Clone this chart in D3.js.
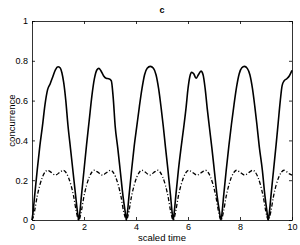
<!DOCTYPE html>
<html>
<head>
<meta charset="utf-8">
<script src="https://cdn.jsdelivr.net/npm/d3@7"></script>
<style>
  html, body { margin: 0; padding: 0; background: #fff; }
  svg text { font-family: "Liberation Sans", Arial, sans-serif; fill: #000; }
</style>
</head>
<body>
<div id="chart"></div>
<script>
// scaled time samples and concurrence values
const solidT = [
  0, 0.05, 0.1, 0.2, 0.3, 0.4, 0.5, 0.6, 0.7, 0.8, 0.9, 1.0, 1.08, 1.15, 1.22, 1.3, 1.38, 1.48, 1.58, 1.68, 1.74, 1.8,
  1.85, 1.9, 2.0, 2.1, 2.2, 2.3, 2.4, 2.5, 2.57, 2.65, 2.75, 2.85, 2.95, 3.05, 3.12, 3.2, 3.3, 3.4, 3.5, 3.58, 3.63,
  3.68, 3.73, 3.83, 3.93, 4.03, 4.13, 4.23, 4.33, 4.43, 4.55, 4.67, 4.77, 4.87, 4.97, 5.05, 5.13, 5.23, 5.33, 5.38, 5.43,
  5.48, 5.53, 5.63, 5.73, 5.83, 5.93, 6.0, 6.07, 6.14, 6.22, 6.31, 6.4, 6.5, 6.58, 6.66, 6.74, 6.82, 6.92, 7.02, 7.12, 7.2, 7.27,
  7.32, 7.37, 7.47, 7.57, 7.67, 7.77, 7.87, 7.97, 8.07, 8.17, 8.28, 8.38, 8.48, 8.57, 8.65, 8.74, 8.86, 8.96, 9.03, 9.09,
  9.14, 9.19, 9.29, 9.39, 9.47, 9.55, 9.62, 9.7, 9.8, 9.9, 10
];
const solidC = [
  0, 0.05, 0.12, 0.25, 0.37, 0.47, 0.58, 0.655, 0.685, 0.72, 0.755, 0.77, 0.765, 0.74, 0.69, 0.6, 0.48, 0.36, 0.24, 0.12, 0.05, 0,
  0.05, 0.12, 0.25, 0.38, 0.5, 0.62, 0.71, 0.755, 0.762, 0.75, 0.725, 0.712, 0.71, 0.7, 0.62, 0.47, 0.36, 0.24, 0.12, 0.045, 0,
  0.05, 0.12, 0.25, 0.37, 0.47, 0.57, 0.66, 0.73, 0.763, 0.772, 0.763, 0.73, 0.66, 0.56, 0.47, 0.37, 0.25, 0.12, 0.05, 0,
  0.05, 0.12, 0.25, 0.36, 0.46, 0.57, 0.66, 0.72, 0.742, 0.735, 0.712, 0.73, 0.748, 0.73, 0.66, 0.56, 0.47, 0.36, 0.24, 0.12, 0.05, 0,
  0.05, 0.12, 0.25, 0.37, 0.48, 0.58, 0.67, 0.735, 0.765, 0.772, 0.762, 0.73, 0.66, 0.57, 0.48, 0.37, 0.25, 0.12, 0.05, 0,
  0.05, 0.12, 0.25, 0.38, 0.49, 0.6, 0.675, 0.7, 0.71, 0.725, 0.752
];

const dashT = [
  0, 0.05, 0.1, 0.2, 0.3, 0.4, 0.5, 0.6, 0.7, 0.9, 1.1, 1.2, 1.3, 1.4, 1.5, 1.6, 1.7, 1.75, 1.8,
  1.85, 1.9, 2.0, 2.1, 2.2, 2.3, 2.4, 2.5, 2.71, 2.92, 3.02, 3.12, 3.22, 3.32, 3.42, 3.52, 3.58, 3.63,
  3.68, 3.73, 3.83, 3.93, 4.03, 4.13, 4.23, 4.33, 4.53, 4.73, 4.83, 4.93, 5.03, 5.13, 5.23, 5.33, 5.38, 5.43,
  5.48, 5.53, 5.63, 5.73, 5.83, 5.93, 6.03, 6.13, 6.35, 6.57, 6.67, 6.77, 6.87, 6.97, 7.07, 7.17, 7.22, 7.27,
  7.32, 7.37, 7.47, 7.57, 7.67, 7.77, 7.87, 7.97, 8.18, 8.39, 8.49, 8.59, 8.69, 8.79, 8.89, 8.99, 9.04, 9.09,
  9.14, 9.19, 9.29, 9.39, 9.49, 9.59, 9.69, 9.79, 9.9, 10
];
const dashC = [
  0, 0.015, 0.045, 0.12, 0.175, 0.215, 0.24, 0.25, 0.243, 0.226, 0.243, 0.25, 0.24, 0.215, 0.175, 0.12, 0.045, 0.015, 0,
  0.015, 0.045, 0.12, 0.175, 0.215, 0.24, 0.25, 0.243, 0.226, 0.243, 0.25, 0.24, 0.215, 0.175, 0.12, 0.045, 0.015, 0,
  0.015, 0.045, 0.12, 0.175, 0.215, 0.24, 0.25, 0.243, 0.226, 0.243, 0.25, 0.24, 0.215, 0.175, 0.12, 0.045, 0.015, 0,
  0.015, 0.045, 0.12, 0.175, 0.215, 0.24, 0.25, 0.243, 0.226, 0.243, 0.25, 0.24, 0.215, 0.175, 0.12, 0.045, 0.015, 0,
  0.015, 0.045, 0.12, 0.175, 0.215, 0.24, 0.25, 0.243, 0.226, 0.243, 0.25, 0.24, 0.215, 0.175, 0.12, 0.045, 0.015, 0,
  0.015, 0.045, 0.12, 0.175, 0.215, 0.24, 0.25, 0.243, 0.232, 0.226
];

const xTicks = [0, 2, 4, 6, 8, 10];
const yTicks = [0, 0.2, 0.4, 0.6, 0.8, 1];
const yTickLabels = ['0', '0.2', '0.4', '0.6', '0.8', '1'];

const width = 300, height = 245;
const margin = { left: 32, right: 8, top: 21, bottom: 25 };

const svg = d3.select('#chart').append('svg')
  .attr('width', width)
  .attr('height', height);

const x = d3.scaleLinear().domain([0, 10]).range([margin.left, width - margin.right]);
const y = d3.scaleLinear().domain([0, 1]).range([height - margin.bottom, margin.top]);

const tickLen = 3;

// box with inward ticks (matlab style)
const axBottom = d3.axisBottom(x).tickValues(xTicks).tickSizeInner(-tickLen).tickSizeOuter(0).tickPadding(4);
const axTop = d3.axisTop(x).tickValues(xTicks).tickSizeInner(-tickLen).tickSizeOuter(0).tickFormat('');
const axLeft = d3.axisLeft(y).tickValues(yTicks).tickSizeInner(-tickLen).tickSizeOuter(0).tickPadding(4)
  .tickFormat((d, i) => yTickLabels[i]);
const axRight = d3.axisRight(y).tickValues(yTicks).tickSizeInner(-tickLen).tickSizeOuter(0).tickFormat('');

function styleAxis(g) {
  g.select('.domain').attr('stroke', '#000').attr('stroke-width', 0.8);
  g.selectAll('.tick line').attr('stroke', '#000').attr('stroke-width', 0.8);
  g.selectAll('.tick text').attr('font-size', 9).attr('font-family', '"Liberation Sans", Arial, sans-serif');
}

svg.append('g').attr('transform', `translate(0,${y(0)})`).call(axBottom).call(styleAxis);
svg.append('g').attr('transform', `translate(0,${y(1)})`).call(axTop).call(styleAxis);
svg.append('g').attr('transform', `translate(${x(0)},0)`).call(axLeft).call(styleAxis);
svg.append('g').attr('transform', `translate(${x(10)},0)`).call(axRight).call(styleAxis);

const line = d3.line()
  .x(d => x(d[0]))
  .y(d => y(d[1]))
  .curve(d3.curveMonotoneX);

svg.append('path')
  .datum(dashT.map((t, i) => [t, dashC[i]]))
  .attr('fill', 'none')
  .attr('stroke', '#000')
  .attr('stroke-width', 1.3)
  .attr('stroke-dasharray', '4,2,1,2')
  .attr('d', line);

svg.append('path')
  .datum(solidT.map((t, i) => [t, solidC[i]]))
  .attr('fill', 'none')
  .attr('stroke', '#000')
  .attr('stroke-width', 1.6)
  .attr('stroke-linejoin', 'round')
  .attr('d', line);

// labels
svg.append('text')
  .attr('x', 162).attr('y', 13)
  .attr('text-anchor', 'middle')
  .attr('font-size', 9).attr('font-weight', 'bold')
  .text('c');

svg.append('text')
  .attr('x', 162).attr('y', 241)
  .attr('text-anchor', 'middle')
  .attr('font-size', 9.5)
  .text('scaled time');

svg.append('text')
  .attr('transform', `translate(15,${(y(0) + y(1)) / 2}) rotate(-90)`)
  .attr('text-anchor', 'middle')
  .attr('font-size', 9.5)
  .text('concurrence');
</script>
</body>
</html>
